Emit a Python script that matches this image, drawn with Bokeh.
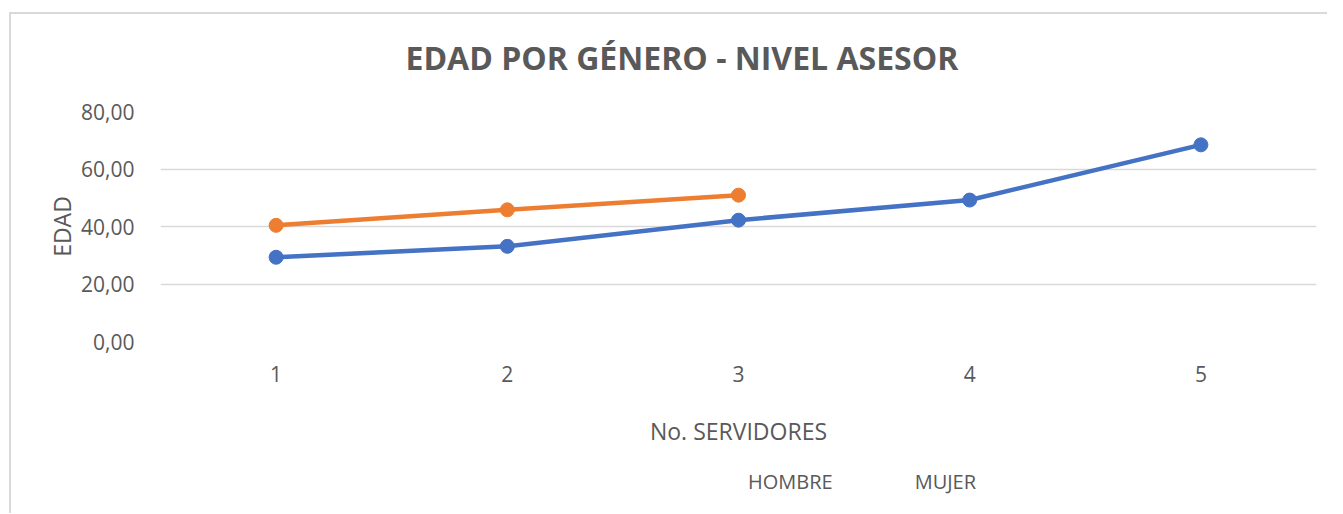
from bokeh.plotting import figure
from bokeh.layouts import column
from bokeh.models import Legend, LegendItem, FixedTicker, CustomJSTickFormatter, Range1d
from bokeh.embed import file_html
from bokeh.resources import INLINE

servidores = [1, 2, 3, 4, 5]
hombre = [29.3, 33.1, 42.2, 49.2, 68.4]
mujer_x = [1, 2, 3]
mujer = [40.4, 45.8, 50.9]
y_ticks = [0, 20, 40, 60, 80]
series_names = ["HOMBRE", "MUJER"]

BLUE = "#4472C4"
ORANGE = "#ED7D31"
TXT = "#595959"
FONT = "Open Sans"

p = figure(width=1327, height=449, output_backend="svg", toolbar_location=None,
           x_range=Range1d(0.5, 5.5), y_range=Range1d(0, 80),
           min_border_left=160, min_border_right=11, min_border_top=111, min_border_bottom=0)
p.frame_width = 1156
p.frame_height = 230
p.border_fill_color = None

p.title.text = "EDAD POR GÉNERO - NIVEL ASESOR"
p.title.align = "left"
p.title.offset = 245
p.title.text_font = FONT
p.title.text_font_style = "bold"
p.title.text_font_size = "32px"
p.title.text_color = TXT
p.title.standoff = 66

p.outline_line_color = None
p.xgrid.grid_line_color = None
p.ygrid.grid_line_color = "#d9d9d9"
p.ygrid.grid_line_width = 1.5

p.yaxis.ticker = FixedTicker(ticks=y_ticks)
p.yaxis.formatter = CustomJSTickFormatter(code="return tick.toFixed(2).replace('.', ',');")
p.xaxis.ticker = FixedTicker(ticks=servidores)
for ax in (p.xaxis[0], p.yaxis[0]):
    ax.axis_line_color = None
    ax.major_tick_line_color = None
    ax.minor_tick_line_color = None
    ax.major_label_text_font = FONT
    ax.major_label_text_font_size = "21px"
    ax.major_label_text_color = TXT
    ax.axis_label_text_font = FONT
    ax.axis_label_text_font_size = "23px"
    ax.axis_label_text_color = TXT
    ax.axis_label_text_font_style = "normal"

p.xaxis.axis_label = "No. SERVIDORES"
p.yaxis.axis_label = "EDAD"
p.xaxis.major_label_standoff = 18
p.xaxis.axis_label_standoff = 30
p.yaxis.major_label_standoff = 20
p.yaxis.axis_label_standoff = 0

p.line(servidores, hombre, line_color=BLUE, line_width=4.5)
p.scatter(servidores, hombre, size=14, fill_color=BLUE, line_color=BLUE)
p.line(mujer_x, mujer, line_color=ORANGE, line_width=4.5)
p.scatter(mujer_x, mujer, size=14, fill_color=ORANGE, line_color=ORANGE)

bg_main = ("linear-gradient(#d9d9d9,#d9d9d9) 9px 12px / calc(100% - 9px) 2px no-repeat, "
           "linear-gradient(#d9d9d9,#d9d9d9) 9px 12px / 2px calc(100% - 12px) no-repeat, #ffffff")
p.styles = {"background": bg_main}

# legend strip (separate small figure so the legend sits below the axis title)
pl = figure(width=1327, height=64, output_backend="svg", toolbar_location=None,
            x_range=Range1d(0, 1), y_range=Range1d(0, 1),
            x_axis_location=None, y_axis_location=None,
            min_border_left=0, min_border_right=0, min_border_top=0, min_border_bottom=0)
pl.grid.visible = False
pl.outline_line_color = None
pl.border_fill_color = None
pl.background_fill_color = None
lh = pl.line([], [], line_color=BLUE, line_width=4.5)
sh = pl.scatter([], [], size=14, fill_color=BLUE, line_color=BLUE)
lm = pl.line([], [], line_color=ORANGE, line_width=4.5)
sm = pl.scatter([], [], size=14, fill_color=ORANGE, line_color=ORANGE)

legend = Legend(items=[LegendItem(label=series_names[0], renderers=[lh, sh]),
                       LegendItem(label=series_names[1], renderers=[lm, sm])],
                orientation="horizontal", location=(530, 18),
                border_line_color=None, background_fill_alpha=0,
                padding=0, margin=0, spacing=24, glyph_width=56, glyph_height=22,
                label_height=22, label_standoff=2,
                label_text_font=FONT, label_text_font_size="20px", label_text_color=TXT)
pl.add_layout(legend, "center")
pl.styles = {"background": "linear-gradient(#d9d9d9,#d9d9d9) 9px 0px / 2px 100% no-repeat, #ffffff"}

layout = column(p, pl, spacing=0)

open("out.html", "w").write(file_html(layout, INLINE))
